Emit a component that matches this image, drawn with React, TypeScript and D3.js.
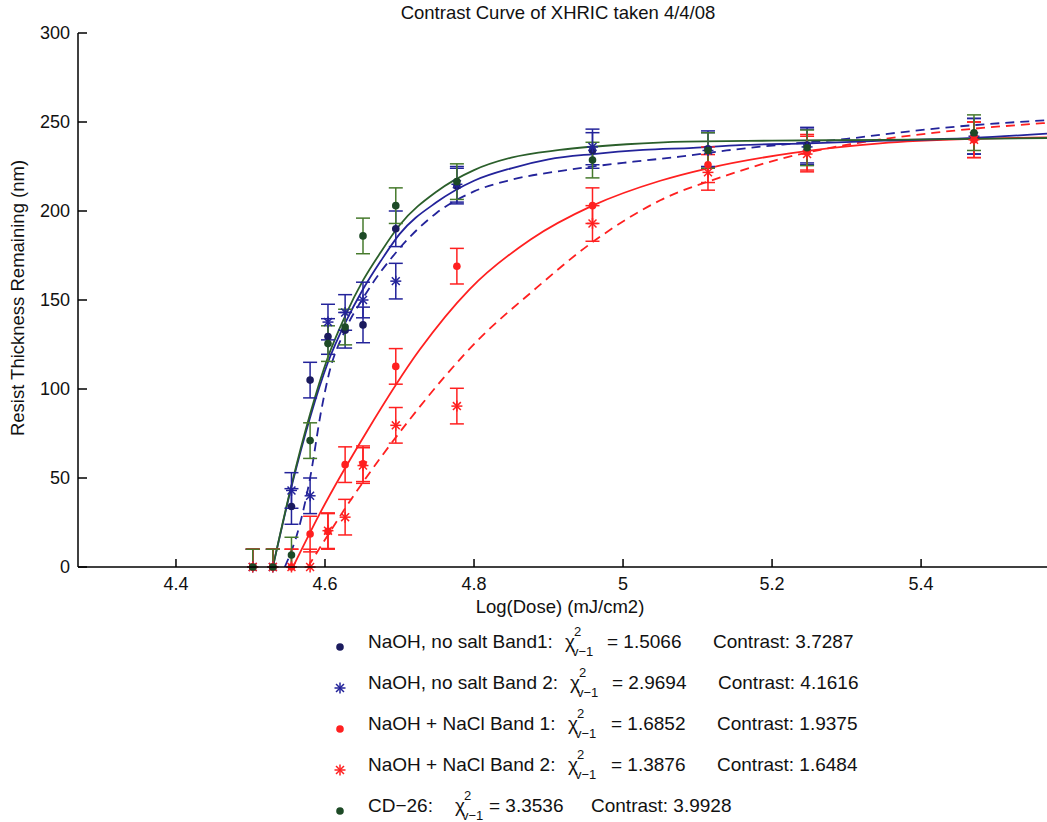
import React from "react";
import * as d3 from "d3";

// ---------- data ----------
const logDose = [4.503, 4.53, 4.555, 4.58, 4.604, 4.627, 4.651, 4.695, 4.777, 4.959, 5.114, 5.247, 5.471];
const naohBand1 = [0, 0, 34, 105, 129.5, 133, 136, 190, 214, 234, 235, 237, 242];
const naohBand2 = [0, 0, 43, 40, 137.6, 143, 150, 160.6, 215, 236, 234, 236, 242];
const naclBand1 = [0, 0, 0, 18.5, 20, 57.5, 58, 112.7, 169, 203, 226, 233, 240];
const naclBand2 = [0, 0, 0, 0, 20.4, 28, 57, 79.6, 90.4, 193, 221.7, 232, 240];
const cd26 = [0, 0, 6.7, 71, 125.5, 134.8, 186, 203, 216.5, 228.6, 234, 235.5, 244];
const errorNm = [10, 10, 10, 10, 10, 10, 10, 10, 10, 10, 10, 10, 10];

// fitted curves: [logDose, thickness]
const fitNaohBand1: [number, number][] = [
  [4.53, 0], [4.555, 45], [4.58, 84], [4.604, 115], [4.627, 137], [4.651, 156], [4.675, 172],
  [4.7, 187], [4.75, 205], [4.8, 217], [4.85, 224], [4.9, 229], [4.96, 232], [5.027, 234.3],
  [5.094, 235.5], [5.157, 237], [5.25, 238], [5.35, 239.5], [5.47, 241], [5.569, 243.5],
];
const fitNaohBand2: [number, number][] = [
  [4.546, 0], [4.565, 22], [4.58, 50], [4.595, 88], [4.605, 108], [4.627, 133], [4.651, 151],
  [4.7, 179], [4.75, 199], [4.8, 211], [4.85, 217.5], [4.924, 223], [5.014, 227.7],
  [5.076, 230.5], [5.139, 234], [5.218, 237.5], [5.3, 240.5], [5.358, 243.5], [5.45, 247.5],
  [5.569, 251],
];
const fitNaclBand1: [number, number][] = [
  [4.557, 0], [4.593, 30], [4.656, 76], [4.727, 122], [4.794, 156], [4.876, 184], [4.959, 203],
  [5.05, 217], [5.114, 224], [5.226, 232.5], [5.345, 238], [5.471, 240.5], [5.569, 241.3],
];
const fitNaclBand2: [number, number][] = [
  [4.577, 0], [4.64, 41], [4.712, 82], [4.809, 129], [4.876, 154], [4.959, 182.5], [5.05, 206],
  [5.139, 220], [5.218, 230], [5.305, 237.5], [5.419, 244], [5.569, 249.5],
];
const fitCd26: [number, number][] = [
  [4.53, 0], [4.555, 46], [4.58, 86], [4.604, 118], [4.627, 141], [4.651, 161], [4.675, 177],
  [4.7, 192], [4.75, 211], [4.8, 223], [4.85, 230], [4.915, 234.3], [5.005, 237.5],
  [5.085, 239], [5.2, 239.5], [5.35, 240], [5.569, 241],
];

const xTicks = [4.4, 4.6, 4.8, 5.0, 5.2, 5.4];
const xTickLabels = ["4.4", "4.6", "4.8", "5", "5.2", "5.4"];
const yTicks = [0, 50, 100, 150, 200, 250, 300];

const legendLabels = [
  "NaOH, no salt Band1:",
  "NaOH, no salt Band 2:",
  "NaOH + NaCl Band 1:",
  "NaOH + NaCl Band 2:",
  "CD\u221226:",
];
const chiValues = ["1.5066", "2.9694", "1.6852", "1.3876", "3.3536"];
const contrastValues = ["3.7287", "4.1616", "1.9375", "1.6484", "3.9928"];

const titleText = "Contrast Curve of XHRIC taken 4/4/08";
const xLabel = "Log(Dose) (mJ/cm2)";
const yLabel = "Resist Thickness Remaining (nm)";

// ---------- styling / layout ----------
const W = 1047;
const H = 822;
const FONT = "'Liberation Sans', Arial, Helvetica, sans-serif";
const NAVY = "#1b1b5e";
const BLUE = "#23239a";
const RED = "#ff2020";
const GREEN_DOT = "#1d4a26";
const GREEN_BAR = "#467a2c";
const GREEN_LINE = "#2b5f2b";

const legendRowY = [648, 689, 730, 771, 812];
const legendChiX = [565, 570, 568, 568, 455];
const legendEqX = [607, 612, 611, 611, 489];
const legendContrastX = [713, 718, 717, 717, 591];

type Series = {
  values: number[];
  marker: "dot" | "star";
  markerColor: string;
  barColor: string;
};

const series: Series[] = [
  { values: naohBand1, marker: "dot", markerColor: NAVY, barColor: BLUE },
  { values: naohBand2, marker: "star", markerColor: BLUE, barColor: BLUE },
  { values: naclBand1, marker: "dot", markerColor: RED, barColor: RED },
  { values: naclBand2, marker: "star", markerColor: RED, barColor: RED },
  { values: cd26, marker: "dot", markerColor: GREEN_DOT, barColor: GREEN_BAR },
];

const fits: { pts: [number, number][]; color: string; dash?: string }[] = [
  { pts: fitNaclBand2, color: RED, dash: "9,6" },
  { pts: fitNaclBand1, color: RED },
  { pts: fitNaohBand2, color: BLUE, dash: "9,6" },
  { pts: fitNaohBand1, color: BLUE },
  { pts: fitCd26, color: GREEN_LINE },
];

function Marker({ kind, cx, cy, color }: { kind: "dot" | "star"; cx: number; cy: number; color: string }) {
  if (kind === "dot") return <circle cx={cx} cy={cy} r={3.8} fill={color} />;
  const s = 5.5;
  const d = s * 0.72;
  return (
    <g stroke={color} strokeWidth={1.5}>
      <line x1={cx - s} y1={cy} x2={cx + s} y2={cy} />
      <line x1={cx} y1={cy - s} x2={cx} y2={cy + s} />
      <line x1={cx - d} y1={cy - d} x2={cx + d} y2={cy + d} />
      <line x1={cx - d} y1={cy + d} x2={cx + d} y2={cy - d} />
    </g>
  );
}

export default function App() {
  const x = d3.scaleLinear().domain([4.2685, 5.569]).range([78, W]);
  const y = d3.scaleLinear().domain([0, 300]).range([567, 33]);
  const line = d3
    .line<[number, number]>()
    .x((d) => x(d[0]))
    .y((d) => y(d[1]))
    .curve(d3.curveMonotoneX);
  const cap = 7;

  return (
    <svg
      width={W}
      height={H}
      style={{ position: "absolute", left: 0, top: 0, background: "#fff" }}
      fontFamily={FONT}
    >
      <defs>
        <clipPath id="plot">
          <rect x={78} y={0} width={W - 78} height={567} />
        </clipPath>
      </defs>

      {/* title */}
      <text x={558} y={19} textAnchor="middle" fontSize={18.5} fill="#111">
        {titleText}
      </text>

      {/* fits */}
      <g clipPath="url(#plot)" fill="none">
        {fits.map((f, i) => (
          <path key={i} d={line(f.pts) || ""} stroke={f.color} strokeWidth={1.8} strokeDasharray={f.dash} />
        ))}
      </g>

      {/* error bars */}
      <g clipPath="url(#plot)">
        {series.map((s, si) =>
          s.values.map((v, i) => {
            const cx = x(logDose[i]);
            const top = y(v + errorNm[i]);
            const bot = y(v - errorNm[i]);
            return (
              <g key={`${si}-${i}`} stroke={s.barColor} strokeWidth={1.5}>
                <line x1={cx} y1={top} x2={cx} y2={bot} />
                <line x1={cx - cap} y1={top} x2={cx + cap} y2={top} />
                <line x1={cx - cap} y1={bot} x2={cx + cap} y2={bot} />
              </g>
            );
          })
        )}
      </g>

      {/* markers */}
      {series.map((s, si) =>
        s.values.map((v, i) => (
          <Marker key={`m${si}-${i}`} kind={s.marker} cx={x(logDose[i])} cy={y(v)} color={s.markerColor} />
        ))
      )}

      {/* axes */}
      <g stroke="#000" strokeWidth={1.5}>
        <line x1={78} y1={567} x2={W} y2={567} />
        <line x1={78} y1={33} x2={78} y2={567} />
        {xTicks.map((t) => (
          <line key={`xt${t}`} x1={x(t)} y1={567} x2={x(t)} y2={559} />
        ))}
        {yTicks.map((t) => (
          <line key={`yt${t}`} x1={78} y1={y(t)} x2={87} y2={y(t)} />
        ))}
      </g>
      {xTicks.map((t, i) => (
        <text key={`xl${t}`} x={x(t)} y={590} textAnchor="middle" fontSize={18} fill="#111">
          {xTickLabels[i]}
        </text>
      ))}
      {yTicks.map((t) => (
        <text key={`yl${t}`} x={70} y={y(t) + 6} textAnchor="end" fontSize={18} fill="#111">
          {t}
        </text>
      ))}
      <text x={560} y={613} textAnchor="middle" fontSize={18.5} fill="#111">
        {xLabel}
      </text>
      <text
        transform={`translate(24,${298}) rotate(-90)`}
        textAnchor="middle"
        fontSize={18.5}
        fill="#111"
      >
        {yLabel}
      </text>

      {/* legend */}
      {legendLabels.map((lab, i) => {
        const s = series[i];
        const ry = legendRowY[i];
        const cx = legendChiX[i];
        return (
          <g key={`lg${i}`} fill="#111">
            <Marker kind={s.marker} cx={340} cy={ry - 1} color={s.markerColor} />
            <text x={368} y={ry} fontSize={19}>
              {lab}
            </text>
            <text x={cx} y={ry} fontSize={19}>
              {"\u03c7"}
              <tspan x={cx + 9} dy={-12} fontSize={13}>
                2
              </tspan>
              <tspan x={cx + 7} dy={20} fontSize={13}>
                {"v\u22121"}
              </tspan>
            </text>
            <text x={legendEqX[i]} y={ry} fontSize={19}>
              {"= " + chiValues[i]}
            </text>
            <text x={legendContrastX[i]} y={ry} fontSize={19}>
              {"Contrast: " + contrastValues[i]}
            </text>
          </g>
        );
      })}
    </svg>
  );
}
